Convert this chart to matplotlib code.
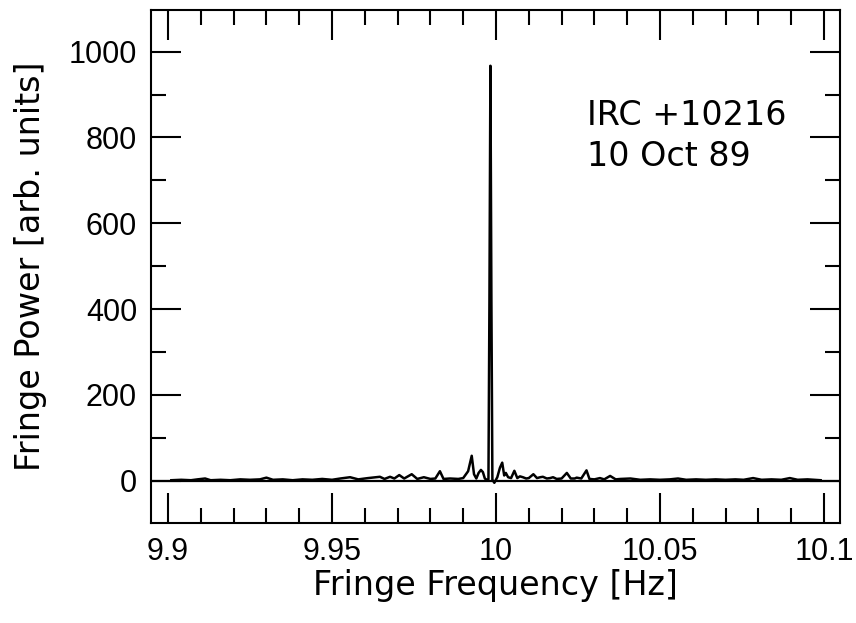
import matplotlib
matplotlib.use("Agg")
import matplotlib.pyplot as plt
from matplotlib.ticker import MultipleLocator

plt.rcParams['font.family'] = ['Liberation Sans', 'DejaVu Sans']

freq = [9.901, 9.904, 9.907, 9.909, 9.9113, 9.913, 9.916, 9.919, 9.922, 9.925,
        9.928, 9.930, 9.932, 9.935, 9.938, 9.941, 9.944, 9.947, 9.950, 9.9525,
        9.9555, 9.958, 9.961, 9.9646, 9.966, 9.9677, 9.969, 9.9705, 9.972, 9.9743,
        9.976, 9.978, 9.980, 9.9815, 9.9829, 9.9840, 9.986, 9.9885, 9.990, 9.9915,
        9.9926, 9.9933, 9.994, 9.9947, 9.9954, 9.9960, 9.9966, 9.9972, 9.9977, 9.9980,
        9.9983, 9.9986, 9.9989, 9.9995, 10.0004, 10.0012, 10.0019, 10.0025, 10.0030, 10.0037,
        10.0046, 10.0056, 10.0065, 10.0073, 10.0082, 10.0092, 10.0100, 10.0114, 10.0125, 10.0135,
        10.0143, 10.0155, 10.0165, 10.0174, 10.0185, 10.0200, 10.0216, 10.0228, 10.0240, 10.0246,
        10.0260, 10.0276, 10.0285, 10.0300, 10.0317, 10.0330, 10.0348, 10.0365, 10.038, 10.041,
        10.044, 10.047, 10.050, 10.053, 10.0555, 10.058, 10.061, 10.064, 10.067, 10.070,
        10.073, 10.0755, 10.0784, 10.081, 10.084, 10.087, 10.0896, 10.092, 10.095, 10.099]
power = [1, 2, 1, 3, 5, 1, 2, 1, 3, 2,
         3, 7, 2, 3, 1, 3, 2, 4, 2, 5,
         8, 3, 6, 9, 4, 9, 5, 13, 5, 15,
         4, 8, 4, 5, 22, 4, 5, 4, 6, 22,
         58, 15, 5, 18, 25, 20, 5, 2, 3, 420,
         967, 420, 2, -5, 8, 30, 42, 12, 18, 8,
         6, 23, 6, 10, 8, 5, 6, 15, 6, 8,
         9, 5, 6, 8, 4, 5, 18, 5, 5, 7,
         5, 24, 4, 3, 6, 3, 11, 3, 4, 5,
         2, 3, 2, 3, 5, 2, 3, 2, 3, 2,
         3, 2, 6, 2, 3, 2, 6, 2, 3, 1]

xticks = [9.9, 9.95, 10.0, 10.05, 10.1]
xticklabels = ['9.9', '9.95', '10', '10.05', '10.1']
yticks = [0, 200, 400, 600, 800, 1000]
source_name = 'IRC +10216'
obs_date = '10 Oct 89'

label_font = ['DejaVu Sans']

fig = plt.figure(figsize=(8.56, 6.23), dpi=100)
ax = fig.add_axes([151/856, 1 - 522.7/623, (840 - 151)/856, (522.7 - 10)/623])

ax.axhline(0, color='black', lw=1.6, zorder=1)
ax.plot(freq, power, color='black', lw=1.8, zorder=2)

ax.set_xlim(9.8948, 10.1049)
ax.set_ylim(-98, 1097)

ax.set_xticks(xticks)
ax.set_xticklabels(xticklabels)
ax.set_yticks(yticks)
ax.xaxis.set_minor_locator(MultipleLocator(0.01))
ax.yaxis.set_minor_locator(MultipleLocator(100))

ax.tick_params(which='both', direction='in', top=True, right=True, width=1.5,
               labelsize=22, colors='black')
ax.tick_params(which='major', length=21.6)
ax.tick_params(which='minor', length=10.8)
ax.tick_params(axis='x', which='major', pad=10)
ax.tick_params(axis='y', which='major', pad=10)

for s in ax.spines.values():
    s.set_linewidth(1.5)

ax.set_xlabel('Fringe Frequency [Hz]', fontsize=24, family=label_font, labelpad=2)
ax.set_ylabel('Fringe Power [arb. units]', fontsize=24, family=label_font, labelpad=16)

ax.text(10.0277, 829, source_name, fontsize=24, family=label_font, va='baseline', ha='left')
ax.text(10.0277, 733, obs_date, fontsize=24, family=label_font, va='baseline', ha='left')

fig.savefig('out.png', dpi=100)
